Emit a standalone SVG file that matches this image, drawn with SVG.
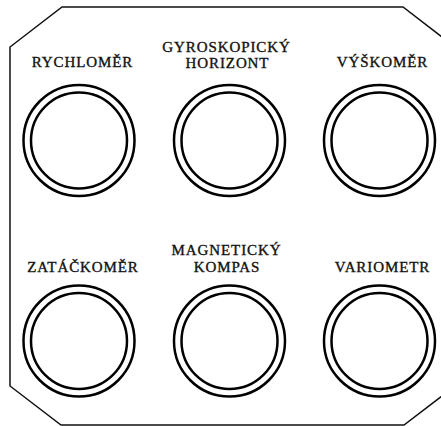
<svg xmlns="http://www.w3.org/2000/svg" width="441" height="426" viewBox="0 0 441 426">
<style>
.panel{fill:#fff;stroke:#111;stroke-width:1.5;stroke-linejoin:miter}
.ring{fill:none;stroke:#000;stroke-width:2.5}
.lbl{font-family:"Liberation Serif","Times New Roman",serif;font-size:15px;font-weight:normal;letter-spacing:0.9px;fill:#111;stroke:#111;stroke-width:0.35;text-anchor:middle}
</style>
<rect width="441" height="426" fill="#fff"/>
<polygon class="panel" points="62,7 403,7 455,47 455,386 404,425 61,425 10,386 10,47"/>
<g id="rychlomer">
<text class="lbl" x="82.5" y="67.3">RYCHLOMĚR</text>
<circle class="ring" cx="79" cy="140.5" r="55.5"/>
<circle class="ring" cx="79" cy="140.5" r="48"/>
</g>
<g id="gyroskopicky-horizont">
<text class="lbl" x="226.5" y="51.7">GYROSKOPICKÝ</text>
<text class="lbl" x="227.5" y="68">HORIZONT</text>
<circle class="ring" cx="229.5" cy="140.5" r="55.5"/>
<circle class="ring" cx="229.5" cy="140.5" r="48"/>
</g>
<g id="vyskomer">
<text class="lbl" x="382.5" y="67.3">VÝŠKOMĚR</text>
<circle class="ring" cx="379.5" cy="140.5" r="55.5"/>
<circle class="ring" cx="379.5" cy="140.5" r="48"/>
</g>
<g id="zatackomer">
<text class="lbl" x="83" y="271.7">ZATÁČKOMĚR</text>
<circle class="ring" cx="79" cy="341" r="55.5"/>
<circle class="ring" cx="79" cy="341" r="48"/>
</g>
<g id="magneticky-kompas">
<text class="lbl" x="226.5" y="255">MAGNETICKÝ</text>
<text class="lbl" x="227" y="271.7">KOMPAS</text>
<circle class="ring" cx="229.5" cy="341" r="55.5"/>
<circle class="ring" cx="229.5" cy="341" r="48"/>
</g>
<g id="variometr">
<text class="lbl" x="382.5" y="271.7">VARIOMETR</text>
<circle class="ring" cx="379.5" cy="341" r="55.5"/>
<circle class="ring" cx="379.5" cy="341" r="48"/>
</g>
<g id="connectors"/>
</svg>
